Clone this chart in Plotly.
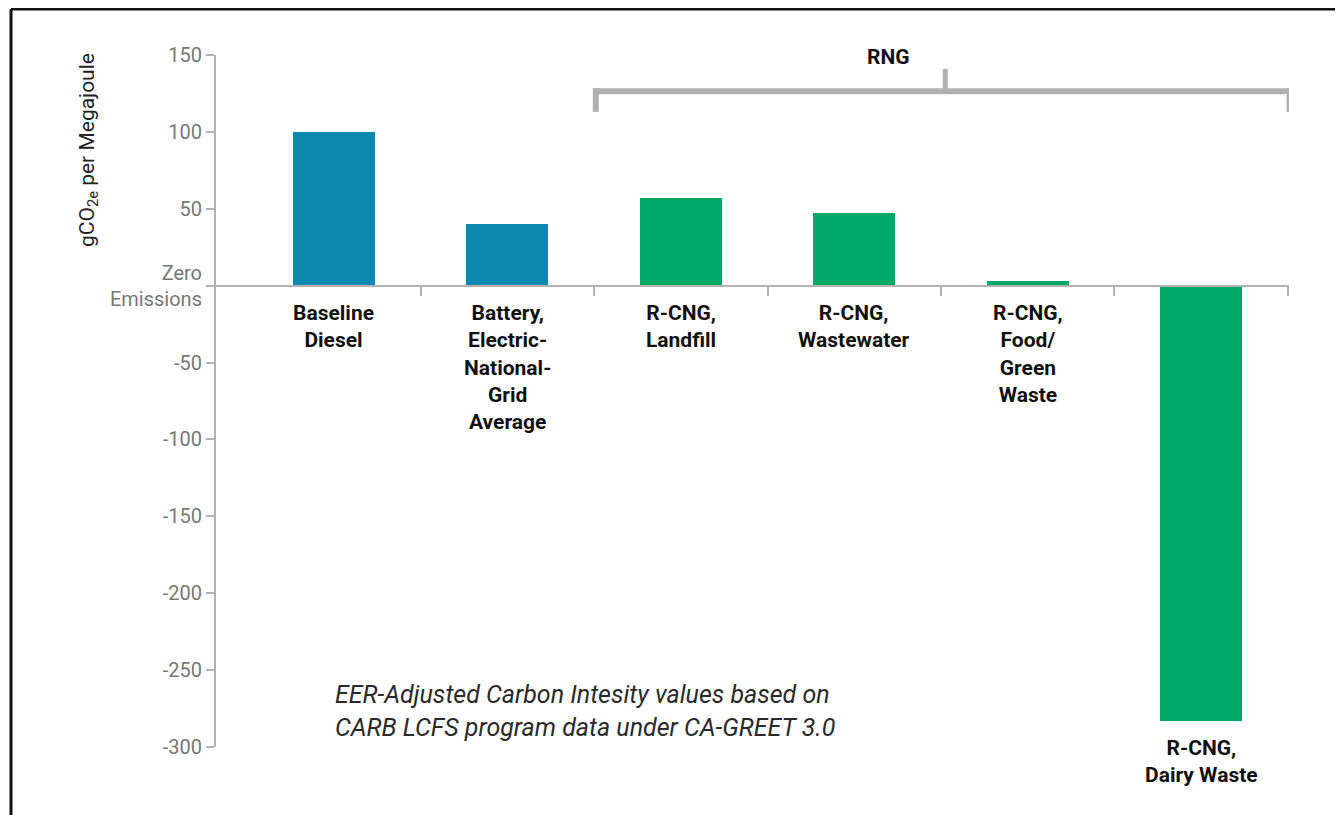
import plotly.graph_objects as go

categories = ["Baseline<br>Diesel", "Battery,<br>Electric-<br>National-<br>Grid<br>Average",
              "R-CNG,<br>Landfill", "R-CNG,<br>Wastewater", "R-CNG,<br>Food/<br>Green<br>Waste",
              "R-CNG,<br>Dairy Waste"]
values = [100, 40, 57, 47, 3, -283]
bar_colors = ["#0b87b0", "#0b87b0", "#00a968", "#00a968", "#00a968", "#00a968"]
y_tickvals = [150, 100, 50, 0, -50, -100, -150, -200, -250, -300]
y_ticktext = ["150", "100", "50", "Zero<br>Emissions", "-50", "-100", "-150", "-200", "-250", "-300"]
y_title = "gCO<sub>2e</sub> per Megajoule"
group_label = "RNG"
note = "EER-Adjusted Carbon Intesity values based on<br>CARB LCFS program data under CA-GREET 3.0"

xs = list(range(len(categories)))

# page body has an 8px margin: plot area targeted at x 216..1289, y 55..747 on screen
L, R, T, B = 216, 1289, 55, 747
PW, PH = R - L, B - T

def px(x):
    return (x - L) / PW

def py(y):
    return (B - y) / PH

fig = go.Figure()
fig.add_trace(go.Bar(x=xs, y=values, marker=dict(color=bar_colors, line=dict(width=0)),
                     width=0.473, hoverinfo="skip", showlegend=False))

AX = "#b3b3b3"
fig.update_layout(
    width=1335, height=807,
    margin=dict(l=L - 8, r=1343 - R, t=T - 8, b=815 - B),
    paper_bgcolor="white", plot_bgcolor="white",
    font=dict(family="Roboto", color="#222"),
    bargap=0,
    xaxis=dict(range=[-0.68, 5.507], showgrid=False, zeroline=False,
               showline=True, linecolor=AX, linewidth=2,
               anchor="free", position=300/450,
               tickvals=[0.5, 1.5, 2.5, 3.5, 4.5, 5.5], ticktext=[""]*6,
               ticks="outside", ticklen=9, tickwidth=2, tickcolor=AX),
    yaxis=dict(range=[-300, 150], showgrid=False, zeroline=False,
               showline=True, linecolor=AX, linewidth=2,
               tickvals=y_tickvals, ticktext=y_ticktext,
               ticks="outside", ticklen=8, tickwidth=2, tickcolor=AX,
               tickfont=dict(family="Roboto", size=20, color="#777777")),
)

# y-axis title (placed at the top like the reference)
fig.add_annotation(x=px(88), y=py(150), xref="paper", yref="paper", text=y_title,
                   textangle=-90, showarrow=False, xanchor="center", yanchor="middle",
                   font=dict(family="Roboto", size=21, color="#222"))

# category labels
for i, (c, v) in enumerate(zip(categories, values)):
    y0 = 0 if v >= 0 else v
    fig.add_annotation(x=i, y=y0, xref="x", yref="y", text="<b>" + c + "</b>",
                       showarrow=False, yanchor="top", xanchor="center",
                       yshift=-13, font=dict(family="Roboto", size=21, color="#111"),
                       align="center")

# RNG bracket
BR = "#b0b0b0"
fig.add_shape(type="line", x0=1.51, x1=5.51, y0=126.5, y1=126.5, xref="x", yref="y",
              line=dict(color=BR, width=6))
fig.add_shape(type="line", x0=1.51, x1=1.51, y0=128.5, y1=113, xref="x", yref="y",
              line=dict(color=BR, width=6))
fig.add_shape(type="line", x0=5.51, x1=5.51, y0=128.5, y1=113, xref="x", yref="y",
              line=dict(color=BR, width=6))
fig.add_shape(type="line", x0=3.525, x1=3.525, y0=126.5, y1=141, xref="x", yref="y",
              line=dict(color=BR, width=5))
fig.add_annotation(x=3.195, y=149, xref="x", yref="y", text="<b>" + group_label + "</b>",
                   showarrow=False, font=dict(family="Roboto", size=21, color="#111"))

# note
fig.add_annotation(x=px(333), y=py(711), xref="paper", yref="paper",
                   text="<i>" + note + "</i>", showarrow=False, xanchor="left", yanchor="middle",
                   align="left", font=dict(family="Roboto", size=25, color="#2a2a2a"))

# outer frame
fig.add_shape(type="line", xref="paper", yref="paper",
              x0=px(11), x1=px(11), y0=py(9), y1=py(830),
              line=dict(color="#111", width=3))
fig.add_shape(type="line", xref="paper", yref="paper",
              x0=px(11), x1=px(1360), y0=py(9), y1=py(9),
              line=dict(color="#111", width=3))

fig.write_html("out.html")
